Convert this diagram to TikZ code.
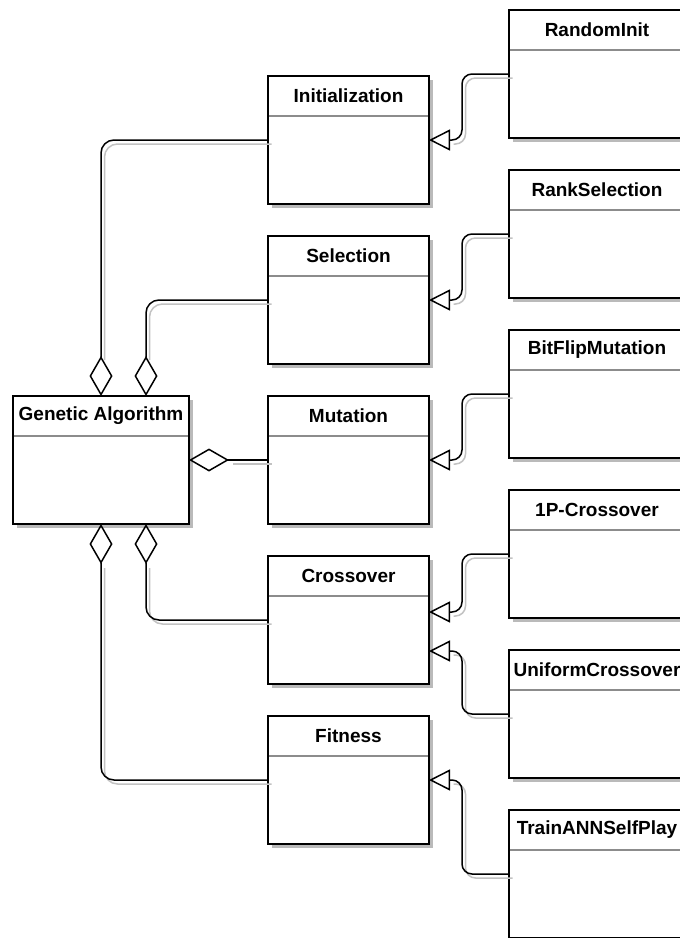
\documentclass[tikz,border=0pt]{standalone}
\usepackage{fontspec}
\setmainfont{Liberation Sans}
\usetikzlibrary{arrows.meta,shadows}

\tikzset{
  classbox/.style={draw, line width=1.5pt, fill=white, inner sep=0pt, outer sep=0pt,
    anchor=north west, minimum height=128pt,
    drop shadow={shadow xshift=3.5pt, shadow yshift=-4pt, fill=black!27, opacity=1, draw=none}},
  classtitle/.style={font=\fontsize{19}{22}\selectfont\bfseries, inner sep=0pt},
  separator/.style={draw=black!45, line width=1.2pt, shorten >=0.75pt, shorten <=0.75pt},
  link/.style={line width=1.5pt, rounded corners=13pt, line join=round},
  link shadow/.style={draw=black!24, line width=1.5pt, rounded corners=13pt,
    transform canvas={shift={(3.5pt,-4pt)}}},
  aggr/.style={link, -{Diamond[open, length=40pt, width=23pt]}},
  aggr shadow/.style={link shadow, shorten >=40pt},
  inh/.style={link, rounded corners=10pt, -{Triangle[open, length=21pt, width=21pt]}},
  inh shadow/.style={link shadow, rounded corners=10pt, shorten >=21pt},
}

% class box: name, left x, top y, width, title
\newcommand\umlclass[5]{%
  \node[classbox, minimum width=#4pt] (#1) at (#2,#3) {};
  \draw[separator] ([yshift=-40pt]#1.north west) -- ([yshift=-40pt]#1.north east);
  \node[classtitle] (#1-title) at ([yshift=-20pt]#1.north) {#5};
}
% connector with its soft shadow
\newcommand\umllink[2]{\draw[#1 shadow] #2; \draw[#1] #2;}

\begin{document}
\begin{tikzpicture}[x=1pt, y=-1pt]
  \useasboundingbox (0,0) rectangle (680,938);
  \clip (0,0) rectangle (680,938);

  % aggregate
  \umlclass{ga}{13}{396}{176}{Genetic Algorithm}

  % operator interfaces
  \umlclass{init}{268}{76}{161}{Initialization}
  \umlclass{sel}{268}{236}{161}{Selection}
  \umlclass{mut}{268}{396}{161}{Mutation}
  \umlclass{cross}{268}{556}{161}{Crossover}
  \umlclass{fit}{268}{716}{161}{Fitness}

  % concrete implementations
  \umlclass{rinit}{509}{10}{176}{RandomInit}
  \umlclass{rank}{509}{170}{176}{RankSelection}
  \umlclass{bitflip}{509}{330}{176}{BitFlipMutation}
  \umlclass{onepx}{509}{490}{176}{1P-Crossover}
  \umlclass{unix}{509}{650}{176}{UniformCrossover}
  \umlclass{train}{509}{810}{176}{TrainANNSelfPlay}

  % aggregation
  \umllink{aggr}{(init.west) -| (ga.north)}
  \umllink{aggr}{(sel.west) -| ([xshift=45pt]ga.north)}
  \umllink{aggr}{(mut.west) -- (ga.east)}
  \umllink{aggr}{(cross.west) -| ([xshift=45pt]ga.south)}
  \umllink{aggr}{(fit.west) -| (ga.south)}

  % generalization
  \umllink{inh}{(rinit.west) -- ++(-47,0) |- (init.east)}
  \umllink{inh}{(rank.west) -- ++(-47,0) |- (sel.east)}
  \umllink{inh}{(bitflip.west) -- ++(-47,0) |- (mut.east)}
  \umllink{inh}{(onepx.west) -- ++(-47,0) |- ([yshift=8pt]cross.east)}
  \umllink{inh}{(unix.west) -- ++(-47,0) |- ([yshift=-31pt]cross.east)}
  \umllink{inh}{(train.west) -- ++(-47,0) |- (fit.east)}
\end{tikzpicture}
\end{document}
